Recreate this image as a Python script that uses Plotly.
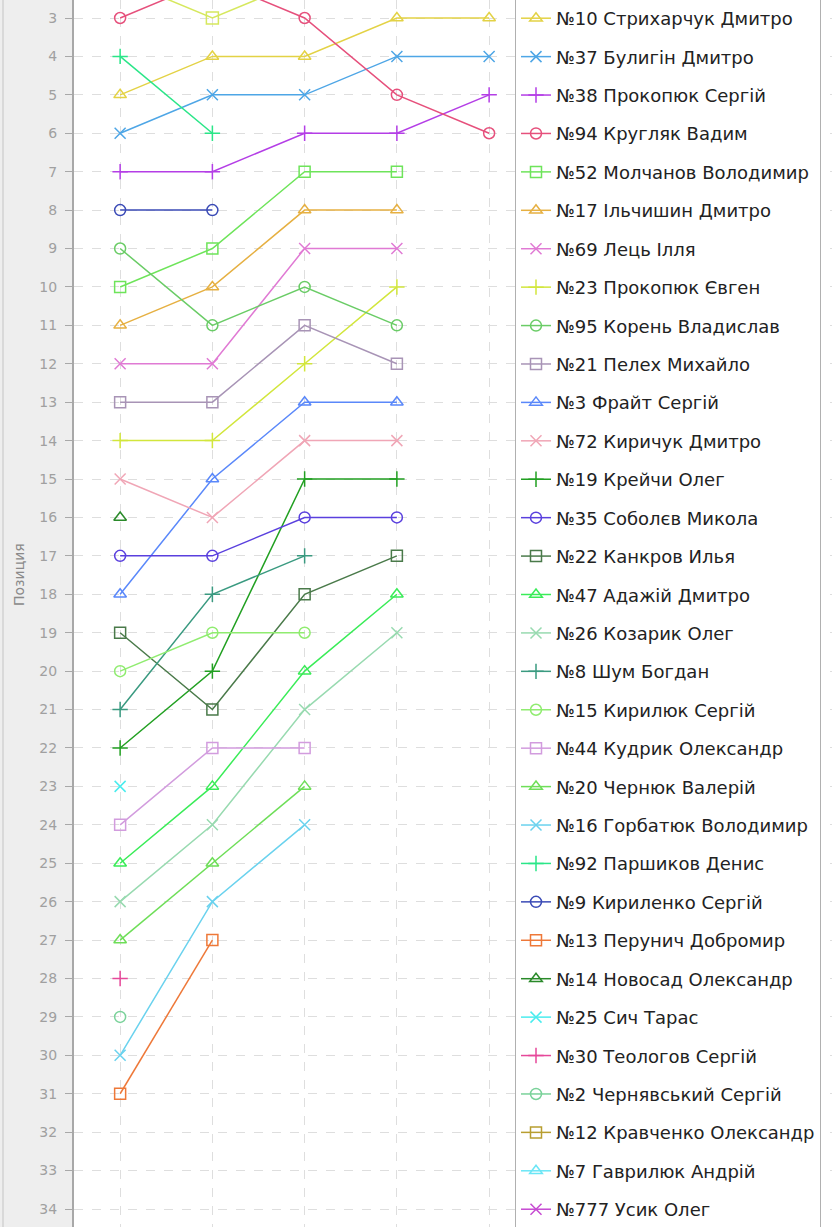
import plotly.graph_objects as go

# ---------------- data ----------------
laps = [1, 2, 3, 4, 5]

riders = [
    "№10 Стрихарчук Дмитро", "№37 Булигін Дмитро", "№38 Прокопюк Сергій",
    "№94 Кругляк Вадим", "№52 Молчанов Володимир", "№17 Ільчишин Дмитро",
    "№69 Лець Ілля", "№23 Прокопюк Євген", "№95 Корень Владислав",
    "№21 Пелех Михайло", "№3 Фрайт Сергій", "№72 Киричук Дмитро",
    "№19 Крейчи Олег", "№35 Соболєв Микола", "№22 Канкров Илья",
    "№47 Адажій Дмитро", "№26 Козарик Олег", "№8 Шум Богдан",
    "№15 Кирилюк Сергій", "№44 Кудрик Олександр", "№20 Чернюк Валерій",
    "№16 Горбатюк Володимир", "№92 Паршиков Денис", "№9 Кириленко Сергій",
    "№13 Перунич Добромир", "№14 Новосад Олександр", "№25 Сич Тарас",
    "№30 Теологов Сергій", "№2 Чернявський Сергій", "№12 Кравченко Олександр",
    "№7 Гаврилюк Андрій", "№777 Усик Олег",
]

N = None
lap1 = [5, 6, 7, 3, 10, 11, 12, 14, 9, 13, 18, 15, 22, 17, 19, 25, 26, 21, 20, 24,
        27, 30, 4, 8, 31, 16, 23, 28, 29, N, N, N]
lap2 = [4, 5, 7, 2, 9, 10, 12, 14, 11, 13, 15, 16, 20, 17, 21, 23, 24, 18, 19, 22,
        25, 26, 6, 8, 27, N, N, N, N, N, N, N]
lap3 = [4, 5, 6, 3, 7, 8, 9, 12, 10, 11, 13, 14, 15, 16, 18, 20, 21, 17, 19, 22,
        23, 24, N, N, N, N, N, N, N, N, N, N]
lap4 = [3, 4, 6, 5, 7, 8, 9, 10, 11, 12, 13, 14, 15, 16, 17, 18, 19, N, N, N,
        N, N, N, N, N, N, N, N, N, N, N, N]
lap5 = [3, 4, 5, 6, N, N, N, N, N, N, N, N, N, N, N, N, N, N, N, N,
        N, N, N, N, N, N, N, N, N, N, N, N]

# rider above the visible area (only its connecting lines are visible)
offscreen_positions = [2, 3, 2, N, N]

# ---------------- styles ----------------
colors = [
    "#e3d245", "#4ea6e6", "#b43ee6", "#e6507c", "#6ee45a", "#e6b042",
    "#e07ad4", "#d2e63c", "#6acc66", "#a894b6", "#5a88fa", "#f0a6b6",
    "#22a022", "#5a40de", "#4a7a4a", "#3aec58", "#98dab0", "#3a9a80",
    "#90ec70", "#d29cde", "#6ede58", "#6ad2ee", "#2ae688", "#3a4ab6",
    "#ee7838", "#2a8a2a", "#4aecee", "#e6489a", "#7ad29a", "#b89e30",
    "#6ae6f6", "#c64ad2",
]
symbols_cycle = ["triangle-up-open", "x-thin-open", "cross-thin-open",
                 "circle-open", "square-open"]
offscreen_color = "#d6e85e"

fig = go.Figure()

fig.add_trace(go.Scatter(
    x=laps, y=offscreen_positions, mode="lines+markers",
    line=dict(color=offscreen_color, width=1.5),
    marker=dict(symbol="square-open", size=12, color=offscreen_color,
                line=dict(width=1.5, color=offscreen_color)),
    showlegend=False, hoverinfo="skip",
))

for i, name in enumerate(riders):
    ys = [lap1[i], lap2[i], lap3[i], lap4[i], lap5[i]]
    c = colors[i]
    sym = symbols_cycle[i % 5]
    fig.add_trace(go.Scatter(
        x=laps, y=ys, name=name, legendgroup=name,
        mode="lines+markers",
        line=dict(color=c, width=1.5),
        marker=dict(symbol=sym, size=11, color=c, line=dict(width=1.5, color=c)),
    ))

W, H = 832, 1227
ML = 74
PW = W - ML
LEG_FONT = 18

fig.update_layout(
    width=W, height=H,
    margin=dict(l=ML, r=0, t=0, b=0, autoexpand=False),
    paper_bgcolor="#eeeeee",
    plot_bgcolor="#ffffff",
    font=dict(family="DejaVu Sans", color="#222222"),
    showlegend=True,
    legend=dict(
        x=(515 - ML) / PW, xanchor="left", y=1 + 1.0 / H, yanchor="top",
        bgcolor="#ffffff", bordercolor="#b0b0b0", borderwidth=1,
        font=dict(family="DejaVu Sans", size=LEG_FONT, color="#222222"),
        traceorder="grouped", tracegroupgap=38.42 - (LEG_FONT * 1.3 + 3),
        itemclick=False, maxheight=3000,
    ),
    xaxis=dict(
        range=[0.5, 0.5 + PW / 92.25],
        tickvals=laps, showticklabels=False, ticks="",
        showgrid=True, gridcolor="#dedede", griddash="dash", gridwidth=1,
        zeroline=False, showline=False,
    ),
    yaxis=dict(
        range=[34.4685, 2.5315],
        tickmode="linear", tick0=3, dtick=1,
        ticks="outside", ticklen=7, tickcolor="#a8a8a8", tickwidth=1,
        tickfont=dict(family="DejaVu Sans", size=14, color="#a0a0a0"),
        ticklabelstandoff=5,
        showgrid=True, gridcolor="#dedede", griddash="dash", gridwidth=1,
        zeroline=False, showline=True, linecolor="#a8a8a8", linewidth=2,
    ),
    shapes=[
        dict(type="line", xref="paper", yref="paper",
             x0=(3 - ML) / PW, x1=(3 - ML) / PW, y0=0, y1=1,
             line=dict(color="#c4c4c4", width=1)),
    ],
    annotations=[
        dict(text="Позиция", xref="paper", yref="paper",
             x=(19 - ML) / PW, y=(H - 575) / H, textangle=-90,
             showarrow=False, xanchor="center", yanchor="middle",
             font=dict(family="DejaVu Sans", size=14, color="#8a8a8a")),
    ],
)

fig.write_html("out.html",
               config={"displayModeBar": False},
               post_script="document.body.style.margin='0';document.body.style.overflow='hidden';")
